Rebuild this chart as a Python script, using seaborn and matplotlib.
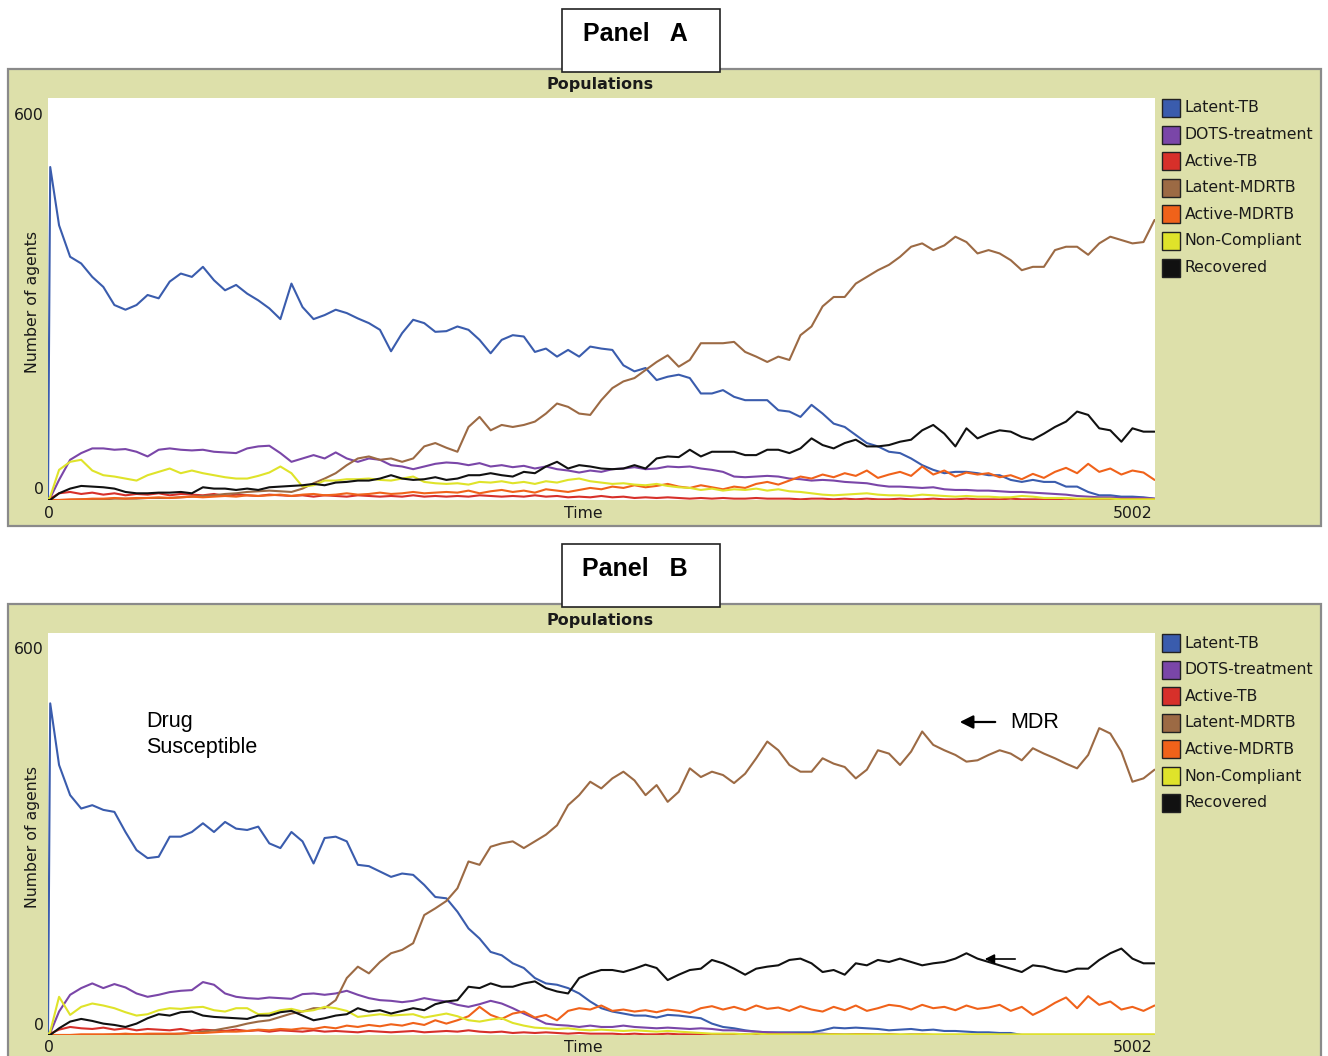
import matplotlib
matplotlib.use("Agg")
import matplotlib.pyplot as plt
from matplotlib.patches import Rectangle, FancyArrowPatch
import pandas as pd
import seaborn as sns

# ---------------------------------------------------------------- data
# sampling times (ticks): start, first step, then every 50 ticks
TIME = [0, 10] + list(range(50, 5001, 50))

NAMES = ["Latent-TB", "DOTS-treatment", "Active-TB", "Latent-MDRTB",
         "Active-MDRTB", "Non-Compliant", "Recovered"]
COLORS = ["#3a5cad", "#7a46a8", "#d7302a", "#9c6a44",
          "#f0621a", "#dfe32a", "#111111"]

# ---- Panel A
a_latent_tb = [0, 497,
    410, 363, 353, 333, 318, 291, 284, 291, 306, 301,
    326, 338, 333, 348, 328, 313, 321, 308, 298, 286,
    270, 323, 288, 270, 276, 284, 279, 271, 264, 254,
    222, 249, 269, 264, 251, 252, 259, 254, 239, 219,
    239, 246, 244, 221, 226, 214, 224, 214, 229, 226,
    224, 201, 192, 197, 179, 184, 187, 182, 159, 159,
    164, 154, 149, 149, 149, 134, 132, 124, 142, 129,
    114, 109, 97, 85, 80, 72, 70, 62, 52, 45,
    40, 42, 42, 40, 37, 37, 30, 27, 30, 27,
    27, 20, 20, 12, 7, 7, 5, 5, 4, 2]
a_dots = [0, 3,
    30, 60, 70, 77, 77, 75, 76, 72, 65, 75,
    77, 75, 74, 75, 72, 71, 70, 77, 80, 81,
    70, 57, 62, 67, 62, 71, 62, 57, 62, 60,
    52, 50, 46, 50, 54, 56, 55, 52, 55, 50,
    52, 49, 51, 47, 50, 46, 44, 41, 44, 42,
    46, 47, 49, 46, 47, 50, 49, 50, 47, 45,
    42, 35, 34, 35, 36, 35, 32, 31, 29, 30,
    29, 27, 26, 25, 22, 20, 20, 19, 18, 19,
    16, 15, 15, 14, 14, 13, 12, 12, 11, 10,
    9, 8, 6, 5, 4, 4, 3, 3, 3, 2]
a_active_tb = [0, 2,
    10, 12, 9, 11, 8, 10, 7, 9, 8, 10,
    7, 9, 8, 7, 9, 6, 8, 7, 6, 8,
    7, 6, 7, 5, 7, 6, 5, 7, 6, 5,
    6, 5, 7, 5, 6, 5, 6, 5, 7, 6,
    5, 6, 5, 7, 5, 6, 4, 5, 4, 6,
    4, 5, 3, 4, 3, 4, 3, 2, 3, 2,
    3, 2, 2, 3, 2, 2, 2, 1, 2, 2,
    1, 2, 1, 2, 1, 1, 2, 1, 1, 2,
    1, 1, 2, 1, 1, 1, 2, 1, 1, 1,
    1, 2, 1, 1, 1, 1, 1, 1, 1, 1]
a_latent_mdr = [0, 0,
    0, 0, 1, 1, 1, 2, 2, 2, 3, 3,
    3, 4, 5, 6, 7, 9, 10, 12, 13, 14,
    13, 12, 17, 25, 32, 40, 52, 62, 65, 60,
    62, 57, 62, 80, 85, 78, 72, 109, 124, 104,
    112, 109, 112, 117, 129, 144, 139, 129, 127, 149,
    167, 177, 182, 194, 206, 216, 199, 209, 234, 234,
    234, 236, 221, 214, 206, 214, 209, 246, 259, 289,
    303, 303, 323, 333, 343, 351, 363, 378, 383, 373,
    380, 393, 385, 368, 373, 368, 358, 343, 348, 348,
    373, 378, 378, 366, 383, 393, 388, 383, 385, 418]
a_active_mdr = [0, 0,
    0, 1, 1, 2, 2, 3, 2, 3, 3, 4,
    3, 4, 5, 4, 5, 6, 5, 7, 6, 7,
    8, 6, 8, 9, 7, 8, 10, 8, 9, 11,
    9, 10, 12, 10, 11, 12, 11, 14, 10, 13,
    15, 12, 14, 11, 16, 14, 12, 15, 18, 16,
    20, 18, 22, 19, 21, 24, 20, 18, 22, 19,
    16, 20, 18, 24, 27, 23, 29, 35, 32, 38,
    34, 40, 36, 44, 33, 38, 42, 36, 50, 38,
    44, 35, 41, 38, 40, 34, 37, 31, 39, 33,
    42, 48, 40, 54, 42, 47, 38, 44, 41, 30]
a_noncompliant = [0, 5,
    45, 57, 60, 44, 37, 35, 32, 29, 37, 42,
    47, 40, 44, 40, 37, 34, 32, 32, 36, 41,
    50, 40, 20, 22, 29, 29, 31, 31, 32, 30,
    29, 32, 35, 27, 25, 24, 25, 23, 27, 26,
    28, 25, 27, 24, 28, 26, 30, 32, 28, 26,
    24, 25, 23, 22, 24, 21, 19, 18, 15, 17,
    14, 16, 15, 17, 14, 16, 13, 12, 10, 8,
    7, 8, 9, 10, 8, 7, 7, 6, 8, 7,
    6, 5, 6, 5, 5, 4, 4, 6, 5, 3,
    3, 3, 2, 2, 2, 2, 1, 1, 1, 1]
a_recovered = [0, 0,
    10, 17, 21, 20, 19, 17, 12, 10, 10, 11,
    11, 12, 10, 19, 17, 17, 15, 17, 15, 19,
    20, 21, 22, 24, 22, 26, 27, 29, 29, 32,
    37, 32, 30, 31, 34, 30, 32, 37, 37, 40,
    37, 35, 42, 40, 50, 57, 47, 52, 50, 47,
    46, 47, 52, 47, 62, 65, 64, 75, 65, 72,
    72, 72, 67, 67, 75, 75, 70, 77, 92, 82,
    77, 85, 90, 80, 80, 82, 87, 90, 104, 112,
    99, 80, 107, 92, 99, 104, 102, 94, 90, 99,
    109, 117, 132, 127, 107, 104, 87, 107, 102, 102]

# ---- Panel B
b_latent_tb = [0, 495,
    403, 358, 338, 343, 336, 333, 303, 276, 264, 266,
    296, 296, 303, 316, 303, 318, 308, 306, 311, 286,
    279, 303, 289, 256, 294, 296, 289, 254, 252, 244,
    236, 241, 239, 224, 206, 204, 184, 159, 144, 124,
    119, 107, 100, 85, 77, 75, 70, 62, 50, 40,
    35, 32, 29, 29, 26, 30, 29, 27, 25, 17,
    12, 10, 7, 5, 4, 4, 4, 4, 4, 7,
    11, 10, 11, 10, 9, 7, 8, 9, 7, 8,
    6, 6, 5, 4, 4, 3, 3, 0, 0, 0,
    0, 0, 0, 0, 0, 0, 0, 0, 0, 0]
b_dots = [0, 3,
    35, 60, 70, 77, 70, 76, 71, 62, 57, 60,
    64, 66, 67, 79, 75, 62, 57, 55, 54, 56,
    55, 54, 61, 62, 60, 62, 66, 60, 55, 52,
    51, 49, 51, 55, 52, 50, 45, 42, 46, 51,
    47, 40, 32, 25, 17, 15, 14, 12, 14, 12,
    12, 14, 12, 11, 10, 11, 10, 9, 10, 9,
    7, 7, 6, 5, 4, 3, 3, 2, 2, 2,
    1, 1, 1, 1, 1, 1, 0, 1, 0, 0,
    0, 0, 0, 0, 0, 0, 0, 0, 0, 0,
    0, 0, 0, 0, 0, 0, 0, 0, 0, 0]
b_active_tb = [0, 2,
    8, 12, 10, 9, 11, 8, 10, 7, 9, 8,
    7, 9, 6, 8, 7, 6, 8, 6, 7, 5,
    7, 6, 5, 7, 5, 6, 5, 4, 6, 5,
    4, 5, 6, 4, 5, 6, 5, 7, 5, 4,
    5, 3, 4, 3, 4, 3, 2, 3, 2, 2,
    2, 1, 2, 1, 1, 2, 1, 1, 1, 1,
    1, 1, 1, 0, 1, 1, 0, 1, 1, 0,
    1, 0, 1, 1, 0, 1, 0, 0, 1, 0,
    0, 0, 0, 0, 0, 0, 0, 0, 0, 0,
    0, 0, 0, 0, 0, 0, 0, 0, 0, 0]
b_latent_mdr = [0, 0,
    0, 0, 0, 0, 0, 1, 1, 1, 1, 1,
    1, 2, 3, 5, 7, 10, 13, 17, 20, 22,
    27, 32, 35, 40, 40, 52, 85, 102, 92, 109,
    122, 127, 137, 179, 189, 200, 219, 259, 254, 281,
    286, 289, 279, 289, 299, 313, 343, 358, 378, 368,
    383, 393, 380, 358, 373, 348, 363, 398, 385, 393,
    388, 376, 390, 413, 438, 425, 403, 393, 393, 413,
    405, 400, 383, 396, 425, 420, 403, 423, 453, 433,
    425, 418, 408, 410, 418, 425, 420, 410, 428, 420,
    413, 405, 398, 418, 458, 450, 423, 378, 383, 396]
b_active_mdr = [0, 0,
    0, 0, 1, 1, 1, 1, 2, 1, 2, 2,
    2, 2, 3, 3, 4, 5, 5, 6, 8, 7,
    9, 8, 10, 9, 12, 10, 14, 12, 15, 13,
    16, 14, 18, 15, 22, 17, 22, 28, 42, 30,
    24, 32, 35, 26, 30, 22, 36, 40, 38, 44,
    36, 38, 35, 37, 34, 38, 36, 33, 40, 43,
    38, 42, 37, 44, 39, 41, 36, 43, 38, 35,
    42, 37, 44, 36, 40, 45, 43, 38, 45, 40,
    42, 37, 44, 39, 41, 45, 36, 42, 30, 38,
    48, 56, 40, 58, 45, 50, 38, 42, 36, 44]
b_noncompliant = [0, 5,
    57, 30, 42, 47, 44, 40, 34, 29, 31, 37,
    40, 39, 41, 42, 37, 35, 40, 40, 31, 32,
    37, 39, 35, 37, 42, 40, 36, 27, 29, 31,
    29, 30, 31, 26, 29, 32, 28, 22, 20, 23,
    25, 18, 14, 11, 10, 9, 10, 8, 7, 8,
    7, 6, 7, 6, 5, 6, 5, 4, 3, 2,
    2, 2, 1, 2, 1, 1, 1, 1, 1, 1,
    1, 1, 1, 1, 1, 1, 1, 1, 1, 1,
    1, 1, 1, 1, 1, 1, 1, 1, 1, 1,
    1, 1, 1, 1, 1, 1, 1, 1, 1, 1]
b_recovered = [0, 0,
    10, 20, 24, 21, 17, 15, 12, 17, 25, 31,
    29, 34, 35, 29, 27, 26, 25, 24, 29, 29,
    34, 36, 29, 22, 25, 29, 31, 40, 35, 37,
    32, 36, 40, 37, 46, 50, 52, 72, 70, 77,
    72, 72, 77, 80, 70, 65, 62, 85, 92, 97,
    97, 94, 99, 105, 100, 82, 90, 97, 99, 112,
    107, 99, 90, 99, 102, 104, 112, 114, 107, 94,
    97, 90, 107, 104, 112, 109, 114, 109, 104, 107,
    109, 114, 122, 114, 109, 104, 99, 94, 104, 102,
    97, 94, 99, 99, 112, 122, 129, 114, 107, 107]

PANEL_A = [a_latent_tb, a_dots, a_active_tb, a_latent_mdr,
           a_active_mdr, a_noncompliant, a_recovered]
PANEL_B = [b_latent_tb, b_dots, b_active_tb, b_latent_mdr,
           b_active_mdr, b_noncompliant, b_recovered]

X_MAX = 5002
Y_MAX = 600

# ---------------------------------------------------------------- style
sns.set_style("white")
plt.rcParams["font.family"] = ["DejaVu Sans"]

KHAKI = "#dde0aa"
TXT = "#1a1a1a"
W, H = 1328, 1056

fig = plt.figure(figsize=(W / 100, H / 100), dpi=100)
fig.patch.set_facecolor("white")


def fx(x):
    return x / W


def fy(y):
    return 1 - y / H


def long_frame(series):
    rows = []
    for name, vals in zip(NAMES, series):
        rows.append(pd.DataFrame({"Time": TIME, "Agents": vals,
                                  "Population": name}))
    return pd.concat(rows, ignore_index=True)


def draw_panel(dy, letter, series):
    # khaki plot window
    fig.add_artist(Rectangle((fx(8), fy(526 + dy)), (1321 - 8) / W,
                             (526 - 69) / H, transform=fig.transFigure,
                             facecolor=KHAKI, edgecolor="#8a8a8a",
                             lw=1.6, zorder=0))

    ax = fig.add_axes([fx(48), fy(500 + dy), (1155 - 48) / W,
                       (500 - 98) / H])
    ax.set_zorder(1)
    ax.set_facecolor("white")
    sns.lineplot(data=long_frame(series), x="Time", y="Agents",
                 hue="Population", hue_order=NAMES,
                 palette=dict(zip(NAMES, COLORS)), estimator=None,
                 sort=False, legend=False, linewidth=1.5, ax=ax)
    ax.set_xlim(0, X_MAX)
    ax.set_ylim(0, Y_MAX)
    ax.set_xticks([])
    ax.set_yticks([])
    ax.set_xlabel("")
    ax.set_ylabel("")
    for s in ax.spines.values():
        s.set_visible(False)

    fs = 11.3
    fig.text(fx(600), fy(85 + dy), "Populations", ha="center",
             va="center", fontsize=11.5, fontweight="bold", color=TXT)
    fig.text(fx(44), fy(115 + dy), str(Y_MAX), ha="right", va="center",
             fontsize=fs, color=TXT)
    fig.text(fx(44), fy(490 + dy), "0", ha="right", va="center",
             fontsize=fs, color=TXT)
    fig.text(fx(49), fy(513 + dy), "0", ha="center", va="center",
             fontsize=fs, color=TXT)
    fig.text(fx(583), fy(513 + dy), "Time", ha="center", va="center",
             fontsize=fs, color=TXT)
    fig.text(fx(1152), fy(513 + dy), str(X_MAX), ha="right", va="center",
             fontsize=fs, color=TXT)
    fig.text(fx(33), fy(302 + dy), "Number of agents", ha="center",
             va="center", rotation=90, fontsize=fs, color=TXT)

    # pen legend
    for i, (name, col) in enumerate(zip(NAMES, COLORS)):
        yc = 108 + i * 26.6 + dy
        fig.add_artist(Rectangle((fx(1162), fy(yc + 9)), 18 / W, 18 / H,
                                 transform=fig.transFigure, facecolor=col,
                                 edgecolor="#222222", lw=1.0, zorder=2))
        fig.text(fx(1185), fy(yc), name, ha="left", va="center",
                 fontsize=fs, color=TXT)

    # panel tag
    fig.add_artist(Rectangle((fx(562), fy(72 + dy)), (720 - 562) / W,
                             63 / H, transform=fig.transFigure,
                             facecolor="white", edgecolor="#222222",
                             lw=1.2, zorder=5))
    fig.text(fx(635), fy(34 + dy), f"Panel   {letter}", ha="center",
             va="center", fontsize=18, fontweight="bold",
             family="Liberation Sans", color="black", zorder=6)
    return ax


draw_panel(0, "A", PANEL_A)
DY_B = 535
draw_panel(DY_B, "B", PANEL_B)

# annotations on panel B
note = dict(ha="left", va="center", fontsize=15.5,
            family="Liberation Sans", color="black")
fig.text(fx(146), fy(722), "Drug", **note)
fig.text(fx(146), fy(748), "Susceptible", **note)
fig.text(fx(1010), fy(722), "MDR", **note)
fig.add_artist(FancyArrowPatch(
    (fx(998), fy(722)), (fx(957), fy(722)), transform=fig.transFigure,
    arrowstyle="-|>", mutation_scale=20, lw=1.6, color="black", zorder=6))
fig.add_artist(FancyArrowPatch(
    (fx(1018), fy(959)), (fx(982), fy(959)), transform=fig.transFigure,
    arrowstyle="-|>", mutation_scale=14, lw=1.2, color="black", zorder=6))

fig.savefig("out.png", dpi=100, facecolor="white")
